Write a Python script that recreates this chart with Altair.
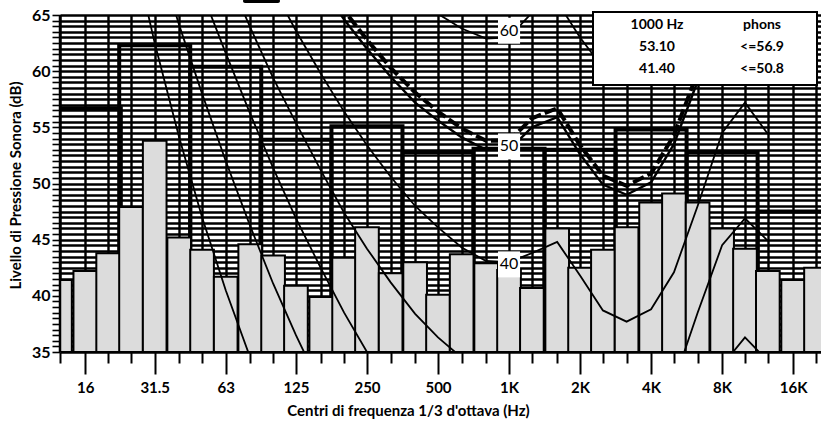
import altair as alt
import pandas as pd

# ---------------- data ----------------
bands = [12.5, 16, 20, 25, 31.5, 40, 50, 63, 80, 100, 125, 160, 200, 250, 315, 400, 500,
         630, 800, 1000, 1250, 1600, 2000, 2500, 3150, 4000, 5000, 6300, 8000, 10000,
         12500, 16000, 20000]
third_levels = [41.4, 42.2, 43.8, 47.9, 53.8, 45.2, 44.1, 41.7, 44.6, 43.6, 40.9, 39.9, 43.4,
                46.1, 42.0, 43.0, 40.1, 43.7, 42.9, 42.3, 40.7, 46.0, 42.5, 44.1, 46.1, 48.3,
                49.1, 48.3, 46.0, 44.2, 42.2, 41.4, 42.5]

oct_centers = [16, 31.5, 63, 125, 250, 500, 1000, 2000, 4000, 8000, 16000]
oct_levels = [56.7, 62.3, 60.4, 53.9, 55.1, 52.8, 53.1, 53.0, 54.8, 52.8, 47.5]
oct_labels = ["16", "31.5", "63", "125", "250", "500", "1K", "2K", "4K", "8K", "16K"]

contour_freqs = [20, 25, 31.5, 40, 50, 63, 80, 100, 125, 160, 200, 250, 315, 400, 500, 630,
                 800, 1000, 1250, 1600, 2000, 2500, 3150, 4000, 5000, 6300, 8000, 10000, 12500]
c_threshold = [81.5, 71.7, 62.5, 54.1, 47.0, 40.5, 34.5, 29.5, 25.1, 20.9, 17.4, 14.4, 11.6, 9.2,
               7.4, 6.0, 5.2, 5.4, 6.5, 4.7, 1.7, -1.2, -3.0, -2.4, 1.5, 9.0, 15.6, 16.9, 15.3]
c_10 = [86.8, 78.8, 71.2, 64.1, 58.0, 52.0, 46.2, 41.1, 36.5, 31.8, 27.8, 24.3, 21.1, 18.1, 16.0,
        14.2, 13.0, 13.0, 14.3, 13.4, 10.3, 7.5, 6.0, 6.8, 10.5, 17.4, 24.0, 26.4, 25.3]
c_20 = [92.6, 85.7, 79.0, 72.6, 67.0, 61.6, 56.2, 51.4, 46.9, 42.4, 38.5, 35.0, 31.7, 28.7, 26.4,
        24.5, 23.1, 23.0, 24.5, 24.4, 21.2, 18.4, 17.3, 18.1, 21.6, 28.0, 33.8, 36.3, 34.2]
c_30 = [97.5, 91.3, 85.2, 79.3, 74.0, 68.9, 63.9, 59.4, 55.4, 51.1, 47.4, 44.2, 41.2, 38.4, 36.3,
        34.5, 33.1, 33.0, 34.6, 35.0, 31.7, 28.9, 27.9, 28.9, 32.3, 38.5, 44.5, 46.9, 44.9]
c_40 = [102.9, 96.9, 91.2, 85.6, 80.8, 76.1, 71.5, 67.4, 63.6, 59.7, 56.4, 53.4, 50.6, 48.0, 46.1,
        44.3, 43.1, 43.0, 43.8, 44.8, 41.8, 38.7, 37.7, 38.8, 42.1, 48.0, 54.5, 57.2, 54.4]
c_60 = [112.5, 107.2, 102.1, 97.2, 93.0, 88.9, 85.1, 81.7, 78.6, 75.5, 72.9, 70.5, 68.4, 66.5,
        65.1, 63.8, 62.9, 63.0, 65.2, 66.2, 63.0, 60.3, 59.4, 60.6, 63.9, 69.4, 74.7, 76.2, 71.6]
c_50 = [107.7, 102.1, 96.6, 91.4, 86.9, 82.5, 78.3, 74.5, 71.1, 67.6, 64.6, 62.0, 59.5, 57.2,
        55.6, 54.1, 53.0, 53.0, 55.0, 55.9, 52.6, 49.9, 49.0, 50.1, 53.5, 59.1, 64.7, 66.7, 63.1]
c_508 = [108.1, 102.5, 97.1, 91.9, 87.4, 83.1, 78.9, 75.1, 71.8, 68.3, 65.4, 62.8, 60.3, 58.1,
         56.4, 54.9, 53.8, 53.8, 55.8, 56.7, 53.4, 50.7, 49.8, 50.9, 54.3, 59.9, 65.5, 67.5, 63.8]

label_texts = ["40", "50", "60"]
label_levels = [42.8, 53.3, 63.6]
label_freq = 1000

legend_col1 = ["1000 Hz", "53.10", "41.40"]
legend_col2 = ["phons", "<=56.9", "<=50.8"]

# ---------------- tables ----------------
df_third = pd.DataFrame({"freq": bands, "level": third_levels})
df_oct = pd.DataFrame({"freq": oct_centers, "level": oct_levels})

thin_rows = []
for name, vals in [("T", c_threshold), ("10", c_10), ("20", c_20), ("30", c_30),
                   ("40", c_40), ("60", c_60)]:
    for f, v in zip(contour_freqs, vals):
        thin_rows.append({"curve": name, "freq": f, "level": v})
df_thin = pd.DataFrame(thin_rows)
df_50 = pd.DataFrame({"freq": contour_freqs, "level": c_50})
df_508 = pd.DataFrame({"freq": contour_freqs, "level": c_508})
df_lab = pd.DataFrame({"text": label_texts, "level": label_levels,
                       "freq": [label_freq] * len(label_texts)})

FONT = "Lato"
W, H = 761, 337

xscale = alt.Scale(type="log", domain=[12.5, 21000], nice=False)
yscale = alt.Scale(domain=[35, 65], nice=False, zero=False)

label_expr = " : ".join(f"datum.value == {f} ? '{l}'" for f, l in zip(oct_centers, oct_labels)) + " : ''"
major_test = "indexof([" + ",".join(str(f) for f in oct_centers) + "], datum.value) >= 0"

x_axis = alt.Axis(
    values=bands, labelExpr=label_expr, grid=True, gridColor="black", gridWidth=2.4,
    gridOpacity=1, domain=False, tickColor="black", tickWidth=2,
    tickSize={"condition": {"test": major_test, "value": 22}, "value": 11},
    labelFont=FONT, labelFontSize=15, labelFontWeight="bold", labelColor="black",
    labelPadding=6, labelOverlap=False, labelFlush=False,
    title="Centri di frequenza 1/3 d'ottava (Hz)", titleFont=FONT, titleFontSize=15,
    titleFontWeight="bold", titleColor="black", titleX=348, titleY=58, titleBaseline="middle",
)
y_ticks = [35 + 0.5 * i for i in range(61)]
y_axis = alt.Axis(
    values=y_ticks,
    labelExpr="datum.value % 5 == 0 ? format(datum.value, 'd') : ''", grid=True,
    gridColor="black", gridWidth=2.5, gridOpacity=1, domain=False, tickColor="black",
    tickWidth=1.6, tickSize=8, labelFont=FONT, labelFontSize=16, labelFontWeight="bold",
    labelColor="black", labelPadding=2, labelOverlap=False,
    title="Livello di Pressione Sonora (dB)", titleFont=FONT, titleFontSize=15,
    titleFontWeight="bold", titleColor="black", titleX=-45, titleY=170, titleAngle=-90,
    titleBaseline="middle", titleAlign="center",
)

X = lambda f: alt.X(f, scale=xscale, axis=x_axis)
Y = lambda f: alt.Y(f, scale=yscale, axis=y_axis)

octave = alt.Chart(df_oct).transform_calculate(
    lo="datum.freq / sqrt(2)", hi="datum.freq * sqrt(2)", base="35"
).mark_bar(fillOpacity=0, stroke="black", strokeWidth=4, clip=True).encode(
    x=X("lo:Q"), x2="hi:Q", y=Y("level:Q"), y2="base:Q",
)

thirds = alt.Chart(df_third).transform_calculate(
    lo="datum.freq / pow(2, 1/6)", hi="datum.freq * pow(2, 1/6)", base="35"
).mark_bar(fill="#dcdcdc", stroke="black", strokeWidth=2, clip=True).encode(
    x=X("lo:Q"), x2="hi:Q", y=Y("level:Q"), y2="base:Q",
)

thin = alt.Chart(df_thin).mark_line(color="black", strokeWidth=1.8, clip=True).encode(
    x=X("freq:Q"), y=Y("level:Q"), detail="curve:N",
)
fifty = alt.Chart(df_50).mark_line(color="black", strokeWidth=2.4, clip=True).encode(
    x=X("freq:Q"), y=Y("level:Q"),
)
dashed = alt.Chart(df_508).mark_line(color="black", strokeWidth=4, strokeDash=[12, 4],
                                     clip=True).encode(
    x=X("freq:Q"), y=Y("level:Q"),
)

left_edge = alt.Chart().mark_rule(color="black", strokeWidth=2.5).encode(
    x=alt.value(0), y=alt.value(0), y2=alt.value(H)
)

lab_box = alt.Chart(df_lab).mark_point(
    shape="M-0.85,-1H0.85V1H-0.85Z", size=676, filled=True, fill="white", opacity=1,
    strokeWidth=0
).encode(x=X("freq:Q"), y=Y("level:Q"))
lab_txt = alt.Chart(df_lab).mark_text(font=FONT, fontSize=16, color="black",
                                      align="center", baseline="middle").encode(
    x=X("freq:Q"), y=Y("level:Q"), text="text:N"
)

leg_box = alt.Chart().mark_rect(fill="white", stroke="black", strokeWidth=2).encode(
    x=alt.value(533), x2=alt.value(757), y=alt.value(-3), y2=alt.value(70)
)
leg_layers = []
for i, (a, b) in enumerate(zip(legend_col1, legend_col2)):
    for txt, px in [(a, 597), (b, 702)]:
        leg_layers.append(
            alt.Chart().mark_text(font=FONT, fontSize=14, fontWeight="bold", color="black",
                                  align="center", baseline="middle").encode(
                x=alt.value(px), y=alt.value(10 + i * 22), text=alt.value(txt))
        )

top_tab = alt.Chart().mark_rect(color="black", cornerRadius=2).encode(
    x=alt.value(183), x2=alt.value(220), y=alt.value(-16), y2=alt.value(-12)
)

chart = alt.layer(
    octave, thirds, thin, fifty, dashed, left_edge, lab_box, lab_txt,
    leg_box, *leg_layers, top_tab
).properties(
    width=W, height=H, background="white",
    padding={"left": 60, "top": 15, "right": 0, "bottom": 78},
    autosize=alt.AutoSizeParams(type="none"),
).configure_view(stroke=None)

chart.save("out.html", embed_options={"renderer": "svg", "actions": False})
